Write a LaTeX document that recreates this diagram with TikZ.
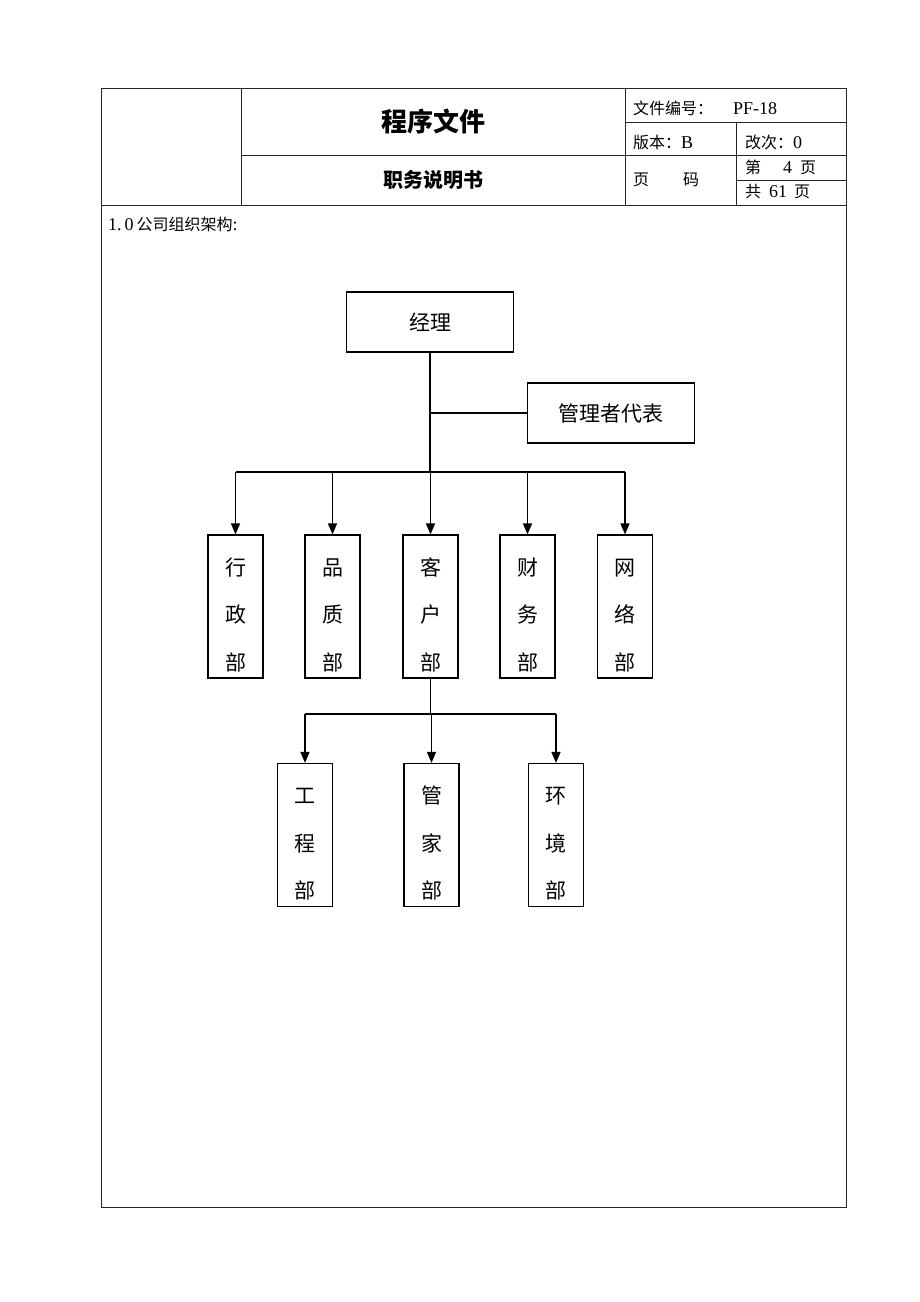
\documentclass[tikz,border=0pt]{standalone}
\usepackage{fontspec}
\setmainfont{Liberation Serif}
\newfontfamily\cjk{Noto Sans CJK SC}
\newcommand{\zh}[1]{{\cjk\fontsize{16}{18}\selectfont #1}}
\usetikzlibrary{arrows.meta,positioning}
\tikzstyle{frame}=[line width=0.9pt, draw=black!85]
\tikzstyle{hd}=[anchor=west, inner sep=0pt, font=\fontsize{18}{20}\selectfont]
\tikzstyle{box}=[draw, line width=1.2pt, minimum width=167pt, minimum height=60pt, font=\cjk\fontsize{21}{25}\selectfont]
\tikzstyle{dept}=[draw, line width=1.2pt, align=center, minimum width=55pt, minimum height=143pt, text height=130pt, text depth=3pt, font=\cjk\fontsize{21}{47.5}\selectfont]
\tikzstyle{link}=[line width=1.4pt]
\begin{document}
\begin{tikzpicture}[x=1pt,y=-1pt,>={Triangle[length=11pt,width=9pt]}]
		    \useasboundingbox (0,0) rectangle (920,1302);
		    \draw[frame] (101,88) rectangle (846,1207);
		    \draw[frame] (101,205) -- (846,205);
		    \draw[frame] (241,88) -- (241,205) (625,88) -- (625,205);
		    \draw[frame] (241,155) -- (846,155);
		    \draw[frame] (625,122) -- (846,122);
		    \draw[frame] (736,122) -- (736,205);
		    \draw[frame] (736,180) -- (846,180);
		    \node[font=\cjk\bfseries\fontsize{26}{30}\selectfont] (title) at (433,122) {程序文件};
		    \node[font=\cjk\bfseries\fontsize{20}{24}\selectfont] (sub) at (433,180) {职务说明书};
		    \node[hd] (docno) at (633,108) {\zh{文件编号：}\hspace{20pt}PF-18};
		    \node[hd] (ver) at (633,142) {\zh{版本：}B};
		    \node[hd] (rev) at (745,142) {\zh{改次：}0};
		    \node[hd] (pg) at (633,180) {\zh{页}\hspace{34pt}\zh{码}};
		    \node[hd] (pgno) at (745,167) {\zh{第}\hspace{22pt}4\hspace{8pt}\zh{页}};
		    \node[hd] (pgtot) at (745,192) {\zh{共}\hspace{8pt}61\hspace{7pt}\zh{页}};
		    \node[hd] (intro) at (108,224) {1.\,0\,\zh{公司组织架构}:};
		    % chart
		    \node[box] (mgr) at (430,322) {经理};
		    \node[box] (rep) at (611,413) {管理者代表};
		    \node[dept] (adm) at (235.5,606.5) {行\\政\\部};
		    \node[dept] (qc) at (332.5,606.5) {品\\质\\部};
		    \node[dept] (cust) at (430.5,606.5) {客\\户\\部};
		    \node[dept] (fin) at (527.5,606.5) {财\\务\\部};
		    \node[dept] (net) at (625,606.5) {网\\络\\部};
		    \node[dept] (eng) at (305,835) {工\\程\\部};
		    \node[dept] (hk) at (431.5,835) {管\\家\\部};
		    \node[dept] (env) at (556,835) {环\\境\\部};
		    \coordinate (bus) at (430,472);
		    \coordinate (sbus) at (431,714);
		    \draw[link] (mgr.south) -- (mgr.south |- bus);
		    \draw[link] (mgr.south |- rep.west) -- (rep.west);
		    \draw[link] (adm.north |- bus) -- (net.north |- bus);
		    \foreach \d in {adm,qc,cust,fin,net}
		        \draw[link,->] (\d.north |- bus) -- (\d.north);
		    \draw[link] (cust.south) -- (cust.south |- sbus);
		    \draw[link] (eng.north |- sbus) -- (env.north |- sbus);
		    \foreach \d in {eng,hk,env}
		        \draw[link,->] (\d.north |- sbus) -- (\d.north);
		\end{tikzpicture}
\end{document}
